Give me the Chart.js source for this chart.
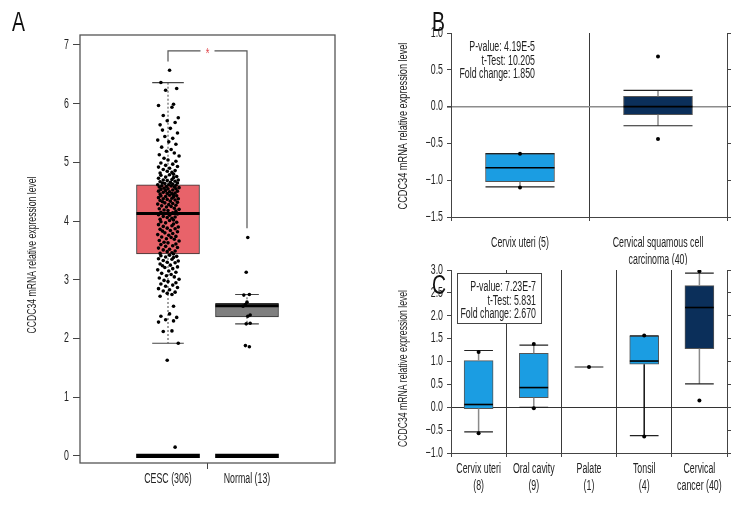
<!DOCTYPE html>
<html>
<head>
<meta charset="utf-8">
<script src="https://cdn.jsdelivr.net/npm/chart.js@4/dist/chart.umd.min.js"></script>
<style>
body{margin:0;background:#fff;width:756px;height:516px;position:relative;overflow:hidden;
  font-family:"Liberation Sans",Arial,sans-serif}
.panel{position:absolute}
.lbl{position:absolute;font-size:27px;color:#111;line-height:28px;transform:scaleX(0.72);transform-origin:left top}
</style>
</head>
<body>
<div class="panel" style="left:0;top:0"><canvas id="chartA" width="378" height="516"></canvas></div>
<div class="panel" style="left:378px;top:0"><canvas id="chartB" width="378" height="265"></canvas></div>
<div class="panel" style="left:378px;top:255px"><canvas id="chartC" width="378" height="261"></canvas></div>
<div class="lbl" style="left:12px;top:8px">A</div>
<div class="lbl" style="left:432px;top:8px">B</div>
<div class="lbl" style="left:432px;top:271px">C</div>
<script>
const FONT='"Liberation Sans",Arial,sans-serif';
const YTITLE='CCDC34 mRNA relative expression level';

// ---- panel A data (GEPIA boxplot)
const aGroups=['CESC (306)','Normal (13)'];
const aPos=[1,2];
const aQ1=[3.44,2.37];
const aMed=[4.13,2.56];
const aQ3=[4.62,2.60];
const aLow=[1.92,2.25];
const aHigh=[6.36,2.75];
const aTicks=[0,1,2,3,4,5,6,7];
const aCesc=[6.57,6.36,6.26,6.23,5.99,5.97,5.94,5.80,5.76,5.71,5.68,5.64,5.58,5.55,5.50,5.44,5.41,5.38,5.35,5.31,
  5.26,5.22,5.19,5.16,5.13,5.11,5.07,5.04,5.02,4.99,4.97,4.95,4.93,4.92,4.90,4.88,4.86,4.85,4.83,4.82,
  4.80,4.79,4.78,4.76,4.75,4.74,4.73,4.71,4.70,4.70,4.69,4.68,4.67,4.66,4.65,4.65,4.64,4.63,4.62,4.62,
  4.61,4.60,4.60,4.59,4.58,4.58,4.57,4.56,4.55,4.55,4.54,4.53,4.52,4.51,4.51,4.50,4.49,4.48,4.47,4.47,
  4.46,4.45,4.44,4.43,4.43,4.42,4.41,4.40,4.39,4.38,4.38,4.37,4.36,4.35,4.34,4.33,4.32,4.31,4.30,4.29,
  4.28,4.27,4.26,4.25,4.24,4.22,4.21,4.20,4.19,4.18,4.17,4.15,4.14,4.13,4.12,4.11,4.10,4.08,4.07,4.06,
  4.05,4.03,4.02,4.01,3.99,3.98,3.97,3.95,3.94,3.92,3.91,3.90,3.88,3.87,3.86,3.84,3.83,3.82,3.80,3.79,
  3.77,3.76,3.74,3.73,3.72,3.70,3.69,3.67,3.66,3.64,3.63,3.61,3.60,3.58,3.57,3.55,3.54,3.52,3.51,3.49,
  3.48,3.46,3.45,3.44,3.42,3.41,3.40,3.39,3.38,3.36,3.35,3.33,3.32,3.30,3.29,3.27,3.25,3.24,3.22,3.21,
  3.19,3.17,3.15,3.13,3.11,3.09,3.07,3.05,3.03,3.01,2.99,2.97,2.95,2.93,2.91,2.89,2.87,2.85,2.83,2.81,
  2.79,2.77,2.75,2.72,2.55,2.42,2.38,2.36,2.32,2.30,2.28,2.13,2.12,1.92,1.63,0.15];
const aNormal=[3.72,3.13,2.75,2.74,2.62,2.58,2.55,2.40,2.38,2.26,2.25,1.88,1.86];
const aSig={top:6.9,left:6.72,right:3.88};

// ---- panel B data (Oncomine, Pyeon cervix)
const bGroups=[['Cervix uteri (5)'],['Cervical squamous cell','carcinoma (40)']];
const bPos=[0.5,1.5];
const bQ1=[-1.02,-0.11];
const bMed=[-0.83,0.0];
const bQ3=[-0.64,0.14];
const bLow=[-1.09,-0.26];
const bHigh=[-0.64,0.22];
const bPts=[[-0.64,-1.10],[0.68,-0.44]];
const bTicks=[-1.5,-1.0,-0.5,0.0,0.5,1.0];
const bStats=['P-value: 4.19E-5','t-Test: 10.205','Fold change: 1.850'];

// ---- panel C data (Oncomine, Zhai cervix)
const cGroups=[['Cervix uteri','(8)'],['Oral cavity','(9)'],['Palate','(1)'],['Tonsil','(4)'],['Cervical','cancer (40)']];
const cPos=[0.5,1.5,2.5,3.5,4.5];
const cQ1=[-0.03,0.21,0.88,0.94,1.28];
const cMed=[0.06,0.43,0.88,1.01,2.18];
const cQ3=[1.02,1.18,0.88,1.56,2.66];
const cLow=[-0.54,0.0,0.88,-0.62,0.51];
const cHigh=[1.24,1.36,0.88,1.56,2.93];
const cPts=[[1.21,-0.57],[1.38,-0.02],[0.88],[1.57,-0.64],[2.97,0.15]];
const cTicks=[-1.0,-0.5,0.0,0.5,1.0,1.5,2.0,2.5,3.0];
const cStats=['P-value: 7.23E-7','t-Test: 5.831','Fold change: 2.670'];

// jitter for the strip plot in A (x units)
const aJit=[0.02,-0.09,0.11,-0.03,0.07,-0.12,0.05,-0.06,0.13,-0.01,0.09,-0.10,0.03,-0.07,0.12,-0.04,0.06,-0.13,0.01,0.10,
  -0.08,0.04,-0.02,0.08,-0.11,0.14,-0.05,0.00,0.10,-0.09,0.06,-0.03,0.12,-0.12,0.02,-0.06,0.09,-0.01,0.05,-0.10,0.07];
const aJitN=[0.01,-0.01,0.03,-0.04,0.0,-0.02,-0.05,0.04,0.01,0.04,-0.01,-0.02,0.03];

Chart.defaults.font.family=FONT;
Chart.defaults.font.size=14;
Chart.defaults.color='#222';
Chart.defaults.animation=false;

const fmt1=v=>(v<0?'\u2212':'')+Math.abs(v).toFixed(1);
const clear='rgba(0,0,0,0)';

// no condensed face is installed, so squeeze canvas text horizontally
function condense(id,k){
  const cv=document.getElementById(id),ctx=cv.getContext('2d');
  const ft=ctx.fillText.bind(ctx),mt=ctx.measureText.bind(ctx);
  ctx.rawFillText=ft;
  ctx.fillText=function(t,x,y){ctx.save();ctx.translate(x,y);ctx.scale(k,1);ft(t,0,0);ctx.restore();};
  ctx.measureText=function(t){const m=mt(t);return {width:m.width*k,
    actualBoundingBoxAscent:m.actualBoundingBoxAscent,actualBoundingBoxDescent:m.actualBoundingBoxDescent,
    actualBoundingBoxLeft:m.actualBoundingBoxLeft*k,actualBoundingBoxRight:m.actualBoundingBoxRight*k};};
  return cv;
}

function titlePlugin(dx,dy,k){
  return {id:'ytitle',afterDraw(chart){
    const {ctx,chartArea:a}=chart;
    ctx.save();
    ctx.font='13.5px '+FONT;ctx.fillStyle='#222';ctx.textAlign='center';ctx.textBaseline='middle';
    ctx.translate(a.left-dx,(a.top+a.bottom)/2+dy);ctx.rotate(-Math.PI/2);ctx.scale(k,1);
    ctx.rawFillText(YTITLE,0,0);
    ctx.restore();
  }};
}

// whiskers, caps, medians drawn through the scales after the box dataset
function boxPlugin(opts){
  return {
    id:'boxes',
    afterDatasetDraw(chart,args){
      if(chart.data.datasets[args.index].label!=='box') return;
      const {ctx}=chart,xs=chart.scales.x,ys=chart.scales.y;
      ctx.save();
      opts.pos.forEach((p,i)=>{
        const cx=xs.getPixelForValue(p);
        const bw=xs.getPixelForValue(p+opts.boxHalf)-cx;
        const cw=xs.getPixelForValue(p+opts.capHalf[i])-cx;
        ctx.strokeStyle=opts.stemColor[i];ctx.lineWidth=opts.stemWidth;
        ctx.setLineDash(opts.dash);
        ctx.beginPath();
        ctx.moveTo(cx,ys.getPixelForValue(opts.q3[i]));ctx.lineTo(cx,ys.getPixelForValue(opts.high[i]));
        ctx.moveTo(cx,ys.getPixelForValue(opts.q1[i]));ctx.lineTo(cx,ys.getPixelForValue(opts.low[i]));
        ctx.stroke();
        ctx.setLineDash([]);
        ctx.strokeStyle=opts.capColor;ctx.lineWidth=1.2;
        ctx.beginPath();
        [opts.high[i],opts.low[i]].forEach(v=>{
          const y=ys.getPixelForValue(v);
          ctx.moveTo(cx-cw,y);ctx.lineTo(cx+cw,y);
        });
        ctx.stroke();
        if(opts.q1[i]!==opts.q3[i]){
          ctx.strokeStyle='#000';ctx.lineWidth=opts.medWidth;
          const y=ys.getPixelForValue(opts.med[i]);
          ctx.beginPath();ctx.moveTo(cx-bw,y);ctx.lineTo(cx+bw,y);ctx.stroke();
        }
      });
      ctx.restore();
    }
  };
}

function statsPlugin(lines,box){
  return {
    id:'stats',
    afterDraw(chart){
      const {ctx,chartArea:a}=chart;
      ctx.save();
      if(box){
        ctx.fillStyle='#fff';ctx.strokeStyle='#444';ctx.lineWidth=1;
        ctx.fillRect(a.left+6.5,a.top+3.5,84,50);
        ctx.strokeRect(a.left+6.5,a.top+3.5,84,50);
      }
      ctx.fillStyle='#222';ctx.font='14px '+FONT;
      ctx.textAlign='right';ctx.textBaseline='middle';
      const x=a.left+(box?85:84),y0=a.top+(box?17:14);
      lines.forEach((t,i)=>ctx.fillText(t,x,y0+i*13.7));
      ctx.restore();
    }
  };
}

// ---------------- Panel A
const frameA={
  id:'frameA',
  afterDraw(chart){
    const {ctx,chartArea:a}=chart,xs=chart.scales.x,ys=chart.scales.y;
    ctx.save();
    ctx.strokeStyle='#555';ctx.lineWidth=1.3;
    ctx.strokeRect(a.left,a.top,a.right-a.left,a.bottom-a.top);
    const x1=xs.getPixelForValue(aPos[0]),x2=xs.getPixelForValue(aPos[1]);
    const yt=ys.getPixelForValue(aSig.top),xm=(x1+x2)/2;
    ctx.strokeStyle='#555';ctx.lineWidth=1.2;
    ctx.beginPath();
    ctx.moveTo(x1,ys.getPixelForValue(aSig.left));ctx.lineTo(x1,yt);ctx.lineTo(xm-7,yt);
    ctx.moveTo(xm+7,yt);ctx.lineTo(x2,yt);ctx.lineTo(x2,ys.getPixelForValue(aSig.right));
    ctx.stroke();
    ctx.fillStyle='#e0474c';ctx.font='15px '+FONT;ctx.textAlign='center';ctx.textBaseline='middle';
    ctx.fillText('*',xm,yt+3);
    ctx.restore();
  }
};

new Chart(condense('chartA',0.63),{
  type:'bar',
  data:{datasets:[
    {type:'scatter',label:'CESC',data:aCesc.map((v,i)=>({x:aPos[0]+aJit[i%aJit.length],y:v})),
      pointRadius:1.8,backgroundColor:'#000',borderWidth:0},
    {type:'scatter',label:'Normal',data:aNormal.map((v,i)=>({x:aPos[1]+aJitN[i],y:v})),
      pointRadius:1.8,backgroundColor:'#000',borderWidth:0},
    {label:'zero',data:aPos.map(p=>({x:p,y:[-0.03,0.03]})),backgroundColor:'#000',borderWidth:0,
      barThickness:63,grouped:false},
    {label:'box',data:aPos.map((p,i)=>({x:p,y:[aQ1[i],aQ3[i]]})),backgroundColor:['#e8636a','#7f7f7f'],
      borderColor:'#333',borderWidth:1,borderSkipped:false,barThickness:63,grouped:false}
  ]},
  options:{
    responsive:false,
    layout:{padding:{top:35,right:43,left:0,bottom:0}},
    plugins:{legend:{display:false},tooltip:{enabled:false}},
    scales:{
      x:{type:'linear',min:-0.114,max:3.114,offset:false,
        afterBuildTicks:s=>{s.ticks=[aPos[0],1.5,aPos[1]].map(v=>({value:v}));},
        afterFit:s=>{s.height=53;},
        ticks:{autoSkip:false,maxRotation:0,minRotation:0,padding:2,
          callback:v=>v===aPos[0]?aGroups[0]:v===aPos[1]?aGroups[1]:''},
        grid:{drawOnChartArea:false,offset:false,tickLength:6,
          tickColor:c=>c.tick&&c.tick.value===1.5?'#444':clear},
        border:{display:false}},
      y:{type:'linear',min:-0.12,max:7.17,
        afterBuildTicks:s=>{s.ticks=aTicks.map(v=>({value:v}));},
        afterFit:s=>{s.width=80;},
        ticks:{padding:4,callback:v=>String(v)},
        grid:{drawOnChartArea:false,tickLength:7,tickColor:'#444'},
        border:{display:false}}
    }
  },
  plugins:[boxPlugin({pos:aPos,q1:aQ1,q3:aQ3,med:aMed,low:aLow,high:aHigh,boxHalf:0.4,capHalf:[0.2,0.15],
    stemColor:['#444','#444'],stemWidth:1,dash:[2,2],capColor:'#444',medWidth:3}),frameA,titlePlugin(48,6,0.64)]
});

// ---------------- Panels B and C share a layout
function oncoChart(id,o){
  const idx=o.pos.map((p,i)=>i).filter(i=>o.q1[i]!==o.q3[i]);
  const n=o.pos.length;
  const xt=[];for(let i=0;i<=n;i++){xt.push(i);if(i<n)xt.push(o.pos[i]);}
  const ptData=[];o.pts.forEach((arr,i)=>arr.forEach(v=>ptData.push({x:o.pos[i],y:v})));
  return new Chart(condense(id,0.63),{
    type:'bar',
    data:{datasets:[
      {type:'scatter',label:'pts',data:ptData,pointRadius:2,backgroundColor:'#000',borderWidth:0},
      {label:'box',data:idx.map(i=>({x:o.pos[i],y:[o.q1[i],o.q3[i]]})),
        backgroundColor:idx.map(i=>o.colors[i]),borderColor:'#555',borderWidth:1,borderSkipped:false,
        barThickness:o.boxPx,grouped:false}
    ]},
    options:{
      responsive:false,
      layout:{padding:{top:o.top,right:0,left:0,bottom:0}},
      plugins:{legend:{display:false},tooltip:{enabled:false}},
      scales:{
        x:{type:'linear',min:0,max:n,offset:false,
          afterBuildTicks:s=>{s.ticks=xt.map(v=>({value:v}));},
          afterFit:s=>{s.height=o.xh;},
          ticks:{autoSkip:false,maxRotation:0,minRotation:0,padding:o.xpad,
            callback:v=>{const k=o.pos.indexOf(v);return k<0?'':o.groups[k];}},
          grid:{offset:false,tickLength:4,
            color:c=>c.tick&&Number.isInteger(c.tick.value)&&c.tick.value>0&&c.tick.value<n?'#3a3a3a':clear,
            tickColor:c=>c.tick&&Number.isInteger(c.tick.value)?'#444':clear},
          border:{display:true,color:'#444'}},
        y:{type:'linear',min:o.ticks[0],max:o.ticks[o.ticks.length-1],position:'left',
          afterBuildTicks:s=>{s.ticks=o.ticks.map(v=>({value:v}));},
          afterFit:s=>{s.width=73;},
          ticks:{padding:4,callback:v=>fmt1(v)},
          grid:{tickLength:4,tickColor:'#444',color:c=>c.tick&&c.tick.value===0?o.zeroColor:clear,
            lineWidth:c=>c.tick&&c.tick.value===0?o.zeroWidth:1},
          border:{display:true,color:'#444'}},
        y2:{type:'linear',min:o.ticks[0],max:o.ticks[o.ticks.length-1],position:'right',
          afterBuildTicks:s=>{s.ticks=o.ticks.map(v=>({value:v}));},
          afterFit:s=>{s.width=29;},
          ticks:{display:false},
          grid:{drawOnChartArea:false,tickLength:4,tickColor:'#444'},
          border:{display:true,color:'#444'}}
      }
    },
    plugins:[boxPlugin({pos:o.pos,q1:o.q1,q3:o.q3,med:o.med,low:o.low,high:o.high,
      boxHalf:o.boxFrac/2,capHalf:o.pos.map(()=>o.boxFrac/2),stemColor:o.stem,stemWidth:1.5,dash:[],
      capColor:'#222',medWidth:1.6}),statsPlugin(o.stats,o.statBox),titlePlugin(48,o.tdy,o.tk)]
  });
}

oncoChart('chartB',{groups:bGroups,pos:bPos,q1:bQ1,q3:bQ3,med:bMed,low:bLow,high:bHigh,pts:bPts,ticks:bTicks,
  stats:bStats,statBox:false,colors:['#1b9de2','#0b2f5a'],stem:['#8a8a8a','#8a8a8a'],
  boxFrac:0.5,boxPx:69,top:33,xh:48,xpad:14,zeroColor:'#8c8c8c',zeroWidth:1.6,tdy:1,tk:0.68});

oncoChart('chartC',{groups:cGroups,pos:cPos,q1:cQ1,q3:cQ3,med:cMed,low:cLow,high:cHigh,pts:cPts,ticks:cTicks,
  stats:cStats,statBox:true,colors:['#1b9de2','#1b9de2','#1b9de2','#1b9de2','#0b2f5a'],
  stem:['#8a8a8a','#8a8a8a','#8a8a8a','#111','#8a8a8a'],
  boxFrac:0.52,boxPx:29,top:15,xh:63,xpad:4,zeroColor:'#333',zeroWidth:1,tdy:7,tk:0.64});
</script>
</body>
</html>
